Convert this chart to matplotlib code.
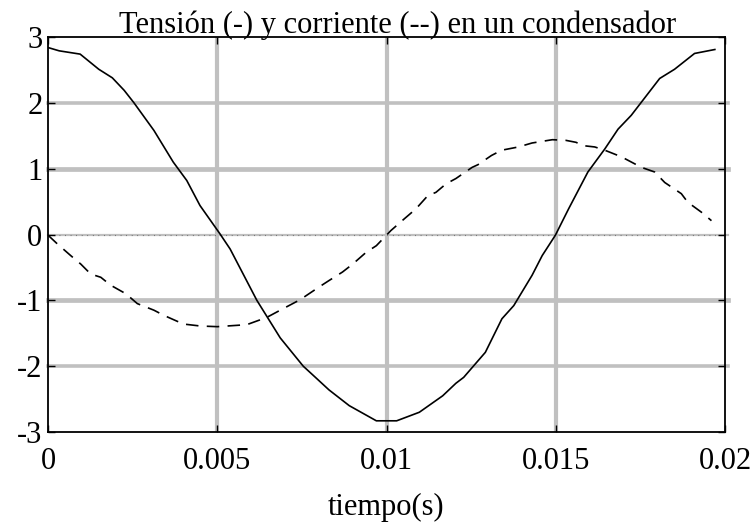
import matplotlib
matplotlib.use("Agg")
import matplotlib.pyplot as plt
import numpy as np

# Tensión en el condensador (V) frente al tiempo (s)
t_v = [0.0, 0.00033, 0.00095, 0.0015, 0.0019, 0.00225, 0.00254, 0.00313, 0.0037,
       0.0039, 0.0041, 0.00449, 0.00508, 0.00538, 0.00617, 0.00686, 0.00754,
       0.0079, 0.0083, 0.0089, 0.0097, 0.0103, 0.01097, 0.01166, 0.01205,
       0.01228, 0.01292, 0.01341, 0.01376, 0.0143, 0.0146, 0.01499, 0.01538,
       0.01595, 0.01645, 0.01684, 0.01723, 0.01807, 0.01851, 0.0191, 0.0197]
v = [2.84, 2.79, 2.74, 2.51, 2.38, 2.19, 2.00, 1.58, 1.10,
     0.96, 0.82, 0.44, 0.01, -0.22, -1.00, -1.57, -2.00,
     -2.17, -2.36, -2.60, -2.83, -2.83, -2.70, -2.45, -2.26,
     -2.17, -1.79, -1.28, -1.08, -0.62, -0.32, -0.01, 0.39,
     0.95, 1.30, 1.60, 1.81, 2.37, 2.51, 2.75, 2.81]

# Corriente en el condensador frente al tiempo (s)
t_i = [0.0, 0.00027, 0.00067, 0.00097, 0.00126, 0.00156, 0.00185, 0.0023, 0.00264,
       0.00313, 0.00343, 0.0040, 0.0045, 0.0050, 0.00587, 0.00646, 0.00686,
       0.00745, 0.0080, 0.0083, 0.0087, 0.0090, 0.0094, 0.0097, 0.01013,
       0.01053, 0.01087, 0.01122, 0.01146, 0.01176, 0.01205, 0.01253, 0.0127,
       0.0131, 0.0134, 0.0139, 0.0143, 0.0149, 0.0153, 0.0156, 0.0158,
       0.01615, 0.01645, 0.01694, 0.01753, 0.01792, 0.01822, 0.01871, 0.0189,
       0.0193, 0.0196]
i = [-0.01, -0.14, -0.32, -0.45, -0.60, -0.65, -0.77, -0.90, -1.05,
     -1.15, -1.23, -1.36, -1.39, -1.40, -1.37, -1.26, -1.15,
     -0.99, -0.80, -0.70, -0.57, -0.45, -0.27, -0.17, 0.06,
     0.24, 0.39, 0.59, 0.64, 0.77, 0.85, 1.02, 1.06,
     1.20, 1.28, 1.33, 1.39, 1.44, 1.43, 1.40, 1.35,
     1.33, 1.28, 1.18, 1.02, 0.95, 0.79, 0.62, 0.49,
     0.34, 0.21]

x_ticks = [0, 0.005, 0.01, 0.015, 0.02]
x_tick_labels = ["0", "0.005", "0.01", "0.015", "0.02"]
y_ticks = [-3, -2, -1, 0, 1, 2, 3]
y_tick_labels = ["-3", "-2", "-1", "0", "1", "2", "3"]

title = "Tensión (-) y corriente (--) en un condensador"
xlabel = "tiempo(s)"

plt.rcParams["font.family"] = ["Liberation Serif", "DejaVu Serif"]
plt.rcParams["font.size"] = 22

fig = plt.figure(figsize=(7.53, 5.22), dpi=100)
ax = fig.add_axes([48 / 753, 1 - 432 / 522, 677 / 753, 395 / 522])

ax.set_xlim(0, 0.02)
ax.set_ylim(-3, 3)

grid_color = "#c0c0c0"
# vertical grid lines
for xv in x_ticks[1:-1]:
    ax.axvline(xv, color=grid_color, lw=3.0, zorder=1)
# horizontal grid lines
for yv in y_ticks[1:-1]:
    if yv == 0:
        ax.axhline(yv, xmax=1.005, color=grid_color, lw=1.6, zorder=1, clip_on=False)
        ax.axhline(yv, color="#555555", lw=0.8, dashes=(0.6, 4.4), zorder=1.1)
    else:
        ax.axhline(yv, xmax=1.005, color=grid_color,
                   lw=3.4 if abs(yv) == 1 else 2.6, zorder=1, clip_on=False)

ax.plot(t_v, v, color="black", lw=1.2, zorder=3)
ax.plot(t_i, i, color="black", lw=1.2, dashes=(7.5, 5), zorder=3)

ax.set_xticks(x_ticks)
ax.set_xticklabels(x_tick_labels)
ax.set_yticks(y_ticks)
ax.set_yticklabels(y_tick_labels)
ax.tick_params(direction="in", length=5, width=1.0, top=True, right=True,
               labelsize=22)
ax.tick_params(axis="x", pad=11)
ax.tick_params(axis="y", pad=4)

for s in ax.spines.values():
    s.set_linewidth(1.3)
    s.set_zorder(4)

ax.set_title(title, fontsize=22, pad=3, x=0.517)
ax.set_xlabel(xlabel, fontsize=22, labelpad=12)

fig.savefig("out.png", dpi=100)
